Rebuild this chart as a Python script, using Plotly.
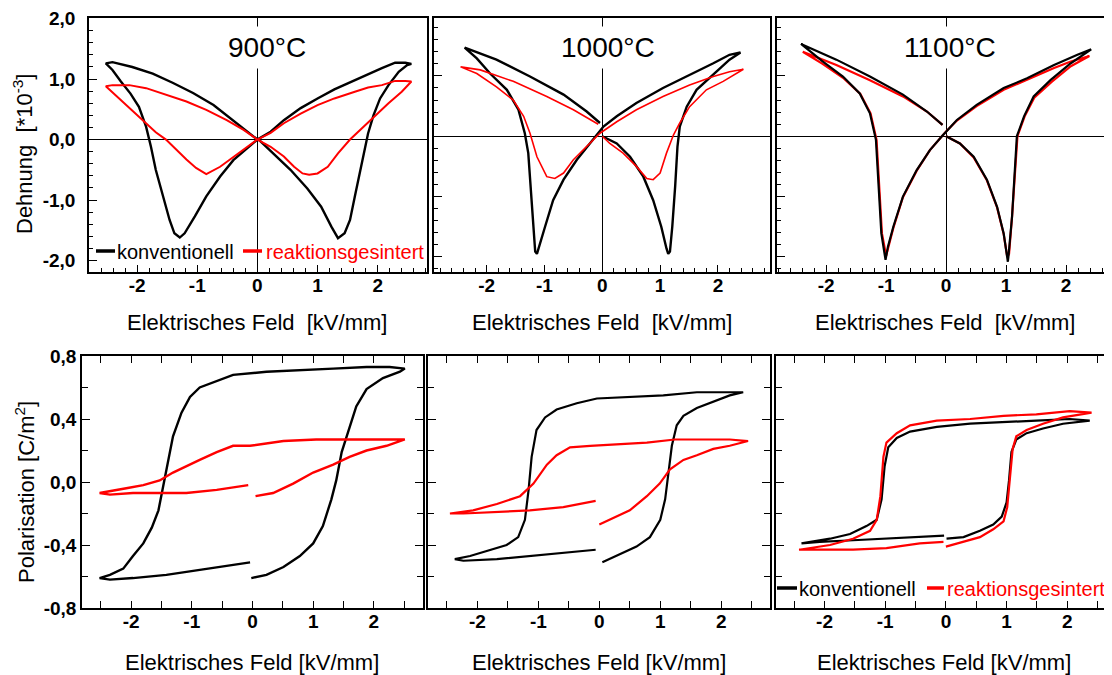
import plotly.graph_objects as go

# ---------------- data ----------------
# Dehnung (strain, *10^-3) vs. electric field (kV/mm)
E_S900_K = [0.0, 0.27, 0.55, 0.83, 1.06, 1.23, 1.34, 1.45, 1.54, 1.62, 1.70, 1.79, 1.84, 1.93, 2.04, 2.18, 2.35, 2.49, 2.56,
            2.46, 2.29, 2.07, 1.84, 1.56, 1.28, 1.00, 0.72, 0.44, 0.22, 0.0,
            -0.17, -0.40, -0.62, -0.85, -1.04, -1.21, -1.29, -1.38, -1.46, -1.57, -1.69, -1.77, -1.85, -1.97, -2.11, -2.27, -2.41, -2.52,
            -2.41, -2.08, -1.74, -1.41, -1.07, -0.73, -0.45, -0.20, 0.0]
S_S900_K = [0.02, -0.23, -0.50, -0.81, -1.11, -1.44, -1.63, -1.55, -1.33, -0.94, -0.56, -0.15, 0.10, 0.40, 0.68, 0.90, 1.12, 1.23, 1.25,
            1.27, 1.27, 1.18, 1.08, 0.96, 0.83, 0.68, 0.52, 0.32, 0.13, 0.0,
            -0.15, -0.34, -0.61, -0.94, -1.27, -1.55, -1.62, -1.55, -1.33, -0.94, -0.50, -0.12, 0.21, 0.54, 0.76, 0.96, 1.15, 1.26,
            1.28, 1.20, 1.09, 0.94, 0.77, 0.57, 0.35, 0.16, 0.0]

E_S900_R = [0.0, 0.22, 0.44, 0.61, 0.75, 0.86, 1.00, 1.17, 1.34, 1.54, 1.73, 1.96, 2.18, 2.40, 2.56,
            2.46, 2.29, 2.07, 1.84, 1.62, 1.28, 1.00, 0.72, 0.44, 0.22, 0.0,
            -0.17, -0.40, -0.62, -0.85, -1.02, -1.18, -1.35, -1.52, -1.69, -1.91, -2.13, -2.35, -2.52,
            -2.41, -2.13, -1.85, -1.52, -1.18, -0.85, -0.51, -0.23, 0.0]
S_S900_R = [0.0, -0.12, -0.28, -0.45, -0.56, -0.58, -0.56, -0.45, -0.23, 0.0, 0.18, 0.40, 0.60, 0.79, 0.96,
            0.97, 0.97, 0.90, 0.86, 0.79, 0.68, 0.57, 0.43, 0.27, 0.11, 0.0,
            -0.12, -0.28, -0.45, -0.57, -0.47, -0.33, -0.16, 0.0, 0.12, 0.32, 0.52, 0.72, 0.88,
            0.90, 0.90, 0.85, 0.74, 0.63, 0.49, 0.32, 0.16, 0.0]

E_S1000_K = [0.0, 0.25, 0.48, 0.71, 0.88, 1.02, 1.11, 1.14, 1.17, 1.21, 1.26, 1.30, 1.34, 1.46, 1.63, 1.92, 2.20, 2.39,
             2.20, 1.92, 1.51, 1.05, 0.59, 0.25, 0.02, -0.10,
             -0.21, -0.44, -0.67, -0.85, -0.99, -1.08, -1.13, -1.16, -1.19, -1.23, -1.28, -1.34, -1.45, -1.65, -1.94, -2.17, -2.38,
             -1.83, -1.25, -0.67, -0.27, -0.04]
S_S1000_K = [0.0, -0.12, -0.34, -0.67, -1.06, -1.50, -1.86, -1.95, -1.91, -1.50, -0.83, -0.17, 0.16, 0.49, 0.77, 1.02, 1.27, 1.39,
             1.35, 1.21, 1.02, 0.80, 0.55, 0.33, 0.16, 0.02,
             -0.12, -0.39, -0.72, -1.06, -1.50, -1.77, -1.95, -1.91, -1.50, -0.83, -0.28, 0.05, 0.44, 0.77, 1.04, 1.29, 1.47,
             1.27, 0.99, 0.69, 0.41, 0.22]

E_S1000_R = [0.0, 0.13, 0.36, 0.59, 0.77, 0.88, 1.00, 1.11, 1.23, 1.34, 1.51, 1.80, 2.09, 2.44,
             2.20, 1.92, 1.51, 1.05, 0.59, 0.25, -0.04,
             -0.27, -0.50, -0.67, -0.82, -0.96, -1.13, -1.25, -1.36, -1.54, -1.83, -2.17, -2.45,
             -2.11, -1.54, -0.96, -0.50, -0.07]
S_S1000_R = [0.0, -0.12, -0.28, -0.50, -0.70, -0.72, -0.61, -0.28, 0.02, 0.22, 0.49, 0.77, 0.91, 1.11,
             1.07, 0.99, 0.85, 0.66, 0.44, 0.24, 0.05,
             -0.17, -0.39, -0.61, -0.70, -0.67, -0.34, 0.05, 0.33, 0.60, 0.82, 1.04, 1.15,
             1.10, 0.91, 0.66, 0.44, 0.20]

E_S1100_K = [0.0, 0.23, 0.46, 0.68, 0.85, 0.96, 1.03, 1.04, 1.10, 1.16, 1.18, 1.30, 1.46, 1.74, 2.08, 2.42,
             2.19, 1.80, 1.35, 0.96, 0.51, 0.18, 0.0, -0.07,
             -0.27, -0.49, -0.72, -0.88, -0.97, -1.01, -1.08, -1.13, -1.17, -1.27, -1.44, -1.72, -2.06, -2.42,
             -1.83, -1.27, -0.72, -0.32, -0.06]
S_S1100_K = [0.0, -0.12, -0.34, -0.72, -1.17, -1.61, -2.08, -1.99, -1.33, -0.39, 0.0, 0.33, 0.66, 0.93, 1.21, 1.44,
             1.35, 1.18, 0.96, 0.80, 0.52, 0.27, 0.08, 0.0,
             -0.23, -0.56, -1.00, -1.50, -1.83, -2.05, -1.61, -0.78, -0.06, 0.38, 0.71, 0.99, 1.24, 1.53,
             1.27, 0.99, 0.69, 0.41, 0.19]

E_S1100_R = [0.0, 0.23, 0.46, 0.68, 0.85, 0.96, 1.02, 1.05, 1.10, 1.16, 1.19, 1.31, 1.47, 1.76, 2.08, 2.39,
             2.08, 1.80, 1.35, 0.96, 0.51, 0.18, 0.0, -0.07,
             -0.27, -0.49, -0.72, -0.88, -0.97, -1.00, -1.07, -1.12, -1.16, -1.26, -1.43, -1.72, -2.06, -2.39,
             -1.83, -1.27, -0.72, -0.32, -0.06]
S_S1100_R = [0.0, -0.12, -0.35, -0.73, -1.18, -1.62, -2.00, -1.95, -1.33, -0.39, 0.0, 0.33, 0.64, 0.90, 1.16, 1.33,
             1.24, 1.13, 0.93, 0.77, 0.50, 0.26, 0.08, 0.0,
             -0.23, -0.57, -1.01, -1.52, -1.85, -1.98, -1.61, -0.78, -0.06, 0.38, 0.70, 0.97, 1.20, 1.40,
             1.18, 0.93, 0.66, 0.41, 0.19]

# Polarisation (C/m^2) vs. electric field (kV/mm)
E_P900_K = [-0.02, 0.23, 0.51, 0.78, 1.00, 1.16, 1.30, 1.38, 1.47, 1.58, 1.71, 1.88, 2.15, 2.43, 2.51,
            2.26, 1.88, 1.33, 0.78, 0.23, -0.32, -0.59, -0.87, -1.03, -1.17, -1.31, -1.39, -1.47, -1.55, -1.66, -1.80, -1.97, -2.13, -2.35, -2.52,
            -2.35, -1.97, -1.42, -0.87, -0.32, -0.04]
P_P900_K = [-0.61, -0.59, -0.54, -0.47, -0.39, -0.28, -0.11, 0.01, 0.19, 0.33, 0.48, 0.59, 0.66, 0.70, 0.72,
            0.73, 0.73, 0.72, 0.71, 0.70, 0.68, 0.64, 0.60, 0.54, 0.44, 0.29, 0.14, -0.03, -0.18, -0.29, -0.39, -0.47, -0.55, -0.59, -0.61,
            -0.62, -0.61, -0.59, -0.56, -0.53, -0.51]

E_P900_R = [0.05, 0.34, 0.67, 1.00, 1.33, 1.60, 1.88, 2.21, 2.51,
            2.15, 1.60, 1.05, 0.51, -0.04, -0.32, -0.59, -0.87, -1.09, -1.31, -1.53, -1.80, -2.08, -2.35, -2.52,
            -2.35, -1.97, -1.53, -1.09, -0.59, -0.07]
P_P900_R = [-0.09, -0.07, -0.01, 0.06, 0.11, 0.16, 0.20, 0.23, 0.27,
            0.27, 0.27, 0.27, 0.26, 0.23, 0.23, 0.19, 0.14, 0.10, 0.06, 0.01, -0.02, -0.04, -0.06, -0.07,
            -0.08, -0.07, -0.07, -0.07, -0.05, -0.02]

E_P1000_K = [0.05, 0.28, 0.61, 0.83, 1.00, 1.08, 1.13, 1.19, 1.27, 1.38, 1.60, 1.87, 2.14, 2.36,
             2.14, 1.60, 1.05, 0.50, -0.04, -0.37, -0.70, -0.89, -1.03, -1.11, -1.16, -1.22, -1.33, -1.52, -1.85, -2.12, -2.37,
             -2.23, -1.68, -1.14, -0.59, -0.06]
P_P1000_K = [-0.51, -0.47, -0.41, -0.35, -0.24, -0.11, 0.06, 0.23, 0.36, 0.42, 0.47, 0.51, 0.55, 0.57,
             0.57, 0.57, 0.55, 0.54, 0.53, 0.50, 0.46, 0.41, 0.33, 0.16, -0.05, -0.24, -0.35, -0.40, -0.44, -0.47, -0.49,
             -0.50, -0.49, -0.47, -0.45, -0.43]

E_P1000_R = [0.0, 0.23, 0.50, 0.78, 0.99, 1.16, 1.38, 1.60, 1.87, 2.14, 2.44,
             2.14, 1.60, 1.24, 0.78, 0.23, -0.15, -0.48, -0.70, -0.86, -1.08, -1.30, -1.68, -2.07, -2.45,
             -2.23, -1.68, -1.14, -0.59, -0.06]
P_P1000_R = [-0.27, -0.23, -0.18, -0.09, -0.01, 0.08, 0.14, 0.17, 0.21, 0.23, 0.26,
             0.27, 0.27, 0.27, 0.25, 0.24, 0.23, 0.22, 0.17, 0.11, -0.01, -0.09, -0.14, -0.18, -0.20,
             -0.20, -0.19, -0.18, -0.16, -0.12]

E_P1100_K = [0.01, 0.29, 0.56, 0.78, 0.92, 1.00, 1.04, 1.08, 1.16, 1.33, 1.60, 1.93, 2.37,
             2.04, 1.49, 0.95, 0.40, -0.15, -0.59, -0.81, -0.95, -1.01, -1.06, -1.14, -1.31, -1.58, -1.91, -2.38,
             -2.08, -1.53, -0.98, -0.43, -0.03]
P_P1100_K = [-0.36, -0.35, -0.31, -0.27, -0.22, -0.13, 0.01, 0.19, 0.27, 0.31, 0.34, 0.37, 0.39,
             0.40, 0.39, 0.38, 0.37, 0.35, 0.32, 0.28, 0.22, 0.10, -0.11, -0.24, -0.28, -0.33, -0.36, -0.39,
             -0.38, -0.37, -0.36, -0.35, -0.34]

E_P1100_R = [0.0, 0.29, 0.56, 0.78, 0.95, 1.01, 1.05, 1.10, 1.16, 1.33, 1.60, 1.93, 2.40,
             2.04, 1.49, 0.95, 0.40, -0.15, -0.59, -0.81, -0.98, -1.03, -1.08, -1.14, -1.25, -1.53, -1.91, -2.42,
             -2.08, -1.53, -0.98, -0.43, -0.04]
P_P1100_R = [-0.41, -0.38, -0.35, -0.30, -0.25, -0.16, 0.01, 0.21, 0.29, 0.33, 0.37, 0.41, 0.44,
             0.45, 0.43, 0.42, 0.40, 0.39, 0.36, 0.31, 0.25, 0.16, -0.09, -0.24, -0.31, -0.36, -0.40, -0.43,
             -0.43, -0.43, -0.42, -0.39, -0.38]

TEMPS = ["900°C", "1000°C", "1100°C"]
X_TICKVALS = [-2, -1, 0, 1, 2]
X_TICKTEXT = ["-2", "-1", "0", "1", "2"]
S_TICKVALS = [-2, -1, 0, 1, 2]
S_TICKTEXT = ["-2,0", "-1,0", "0,0", "1,0", "2,0"]
P_TICKVALS = [-0.8, -0.4, 0.0, 0.4, 0.8]
P_TICKTEXT = ["-0,8", "-0,4", "0,0", "0,4", "0,8"]
SERIES = ["konventionell", "reaktionsgesintert"]

# ---------------- styling / layout ----------------
W, H = 1112, 675
OFF = 8  # the page body margin shifts the figure by 8 px; positions below are in window pixels
FONT = "Liberation Sans, Arial, sans-serif"
BLACK, RED = "#000000", "#ff0000"


def px2x(p):
    return (p - OFF) / W


def px2y(p):
    return 1 - (p - OFF) / H


def xd(a, b):
    return [px2x(a), px2x(b)]


def yd(top, bottom):
    return [px2y(bottom), px2y(top)]


panels = [
    # top row: strain
    dict(xdom=xd(89, 427), ydom=yd(18, 272), xr=[-2.80, 2.82], yr=[-2.19, 2.01], kind="S", ylab=True),
    dict(xdom=xd(434, 770), ydom=yd(18, 272), xr=[-2.91, 2.90], yr=[-2.25, 1.96], kind="S", ylab=False),
    dict(xdom=xd(777, 1114), ydom=yd(18, 272), xr=[-2.82, 2.80], yr=[-2.25, 1.96], kind="S", ylab=False),
    # bottom row: polarisation
    dict(xdom=xd(82, 423), ydom=yd(356, 608), xr=[-2.81, 2.81], yr=[-0.80, 0.80], kind="P", ylab=True),
    dict(xdom=xd(428, 770), ydom=yd(356, 608), xr=[-2.81, 2.80], yr=[-0.80, 0.80], kind="P", ylab=False),
    dict(xdom=xd(776, 1114), ydom=yd(356, 608), xr=[-2.80, 2.77], yr=[-0.80, 0.80], kind="P", ylab=False),
]

curves = [
    (1, E_S900_K, S_S900_K, BLACK, 2.4), (1, E_S900_R, S_S900_R, RED, 2.0),
    (2, E_S1000_K, S_S1000_K, BLACK, 2.4), (2, E_S1000_R, S_S1000_R, RED, 1.6),
    (3, E_S1100_R, S_S1100_R, RED, 2.2), (3, E_S1100_K, S_S1100_K, BLACK, 2.2),
    (4, E_P900_K, P_P900_K, BLACK, 2.4), (4, E_P900_R, P_P900_R, RED, 2.4),
    (5, E_P1000_K, P_P1000_K, BLACK, 2.2), (5, E_P1000_R, P_P1000_R, RED, 2.2),
    (6, E_P1100_K, P_P1100_K, BLACK, 2.2), (6, E_P1100_R, P_P1100_R, RED, 2.2),
]

fig = go.Figure()
for ax, xs, ys, col, w in curves:
    suf = "" if ax == 1 else str(ax)
    fig.add_trace(go.Scatter(x=xs, y=ys, mode="lines", line=dict(color=col, width=w),
                             xaxis="x" + suf, yaxis="y" + suf, showlegend=False, hoverinfo="skip"))

tickfont = dict(family=FONT, size=19, color="black", weight="bold")
layout = dict(width=W, height=H, autosize=False,
              margin=dict(l=0, r=0, t=0, b=0, pad=0, autoexpand=False),
              paper_bgcolor="white", plot_bgcolor="white", showlegend=False)

for i, p in enumerate(panels, start=1):
    suf = "" if i == 1 else str(i)
    top = p["kind"] == "S"
    xa = dict(domain=p["xdom"], range=p["xr"], anchor="y" + suf, showline=True, linecolor="black",
              linewidth=1.5, showgrid=False, ticks="inside", ticklen=7, tickwidth=1.2, tickcolor="black",
              tickmode="array", tickvals=X_TICKVALS, ticktext=X_TICKTEXT, tickfont=tickfont,
              ticklabelstandoff=-5, fixedrange=True, automargin=False)
    ya = dict(domain=p["ydom"], range=p["yr"], anchor="x" + suf, showline=True, linecolor="black",
              linewidth=1.5, showgrid=False, ticks="inside", tickwidth=1.2, tickcolor="black",
              tickmode="array", tickfont=tickfont, showticklabels=p["ylab"], fixedrange=True,
              automargin=False)
    if top:
        xa.update(mirror=True, zeroline=True, zerolinecolor="black", zerolinewidth=1,
                  minor=dict(ticks="inside", ticklen=4, tickcolor="black", tickwidth=1,
                             tickmode="linear", tick0=0, dtick=0.2))
        ya.update(mirror=True, zeroline=True, zerolinecolor="black", zerolinewidth=1,
                  tickvals=S_TICKVALS, ticktext=S_TICKTEXT, ticklen=8, ticklabelstandoff=8,
                  minor=dict(ticks="inside", ticklen=4, tickcolor="black", tickwidth=1,
                             tickmode="linear", tick0=0, dtick=0.2))
    else:
        xa.update(mirror="ticks", zeroline=False,
                  minor=dict(ticks="inside", ticklen=7, tickcolor="black", tickwidth=1.2,
                             tickmode="linear", tick0=0, dtick=0.5))
        ya.update(mirror="ticks", zeroline=False, tickvals=P_TICKVALS, ticktext=P_TICKTEXT,
                  ticklen=8, ticklabelstandoff=0,
                  minor=dict(ticks="inside", ticklen=6, tickcolor="black", tickwidth=1.2,
                             tickmode="linear", tick0=0, dtick=0.2))
    layout["xaxis" + suf] = xa
    layout["yaxis" + suf] = ya

fig.update_layout(**layout)


def px_ann(text, x, y, size, color="black", xanchor="center", **kw):
    fig.add_annotation(text=text, x=px2x(x), y=px2y(y), xref="paper", yref="paper",
                       xanchor=xanchor, yanchor="middle", showarrow=False,
                       font=dict(family=FONT, size=size, color=color), **kw)


# temperature titles (white box hides the zero line behind)
for t, cx in zip(TEMPS, [267, 608, 950]):
    px_ann(t, cx, 48, 28, bgcolor="white", borderpad=5)

# axis titles
for cx in [257, 602, 945]:
    px_ann("Elektrisches Feld\u00a0 [kV/mm]", cx, 322, 22)
for cx in [252, 599, 944]:
    px_ann("Elektrisches Feld [kV/mm]", cx, 662, 22)
px_ann("Dehnung\u00a0 [*10<sup>-3</sup>]", 23, 154, 22, textangle=-90)
px_ann("Polarisation [C/m<sup>2</sup>]", 25, 492, 22, textangle=-90)


# hand-made legends (two places)
def legend(y, segs, texts):
    for (a, b), col in zip(segs, [BLACK, RED]):
        fig.add_shape(type="line", xref="paper", yref="paper", x0=px2x(a), x1=px2x(b),
                      y0=px2y(y), y1=px2y(y), line=dict(color=col, width=3.5))
    for (tx, label), col in zip(texts, [BLACK, RED]):
        px_ann(label, tx, y + 1, 20, color=col, xanchor="left")


legend(251, [(96, 115), (243, 262)], [(115, SERIES[0]), (264, SERIES[1])])
legend(588, [(777, 797), (927, 944)], [(797, SERIES[0]), (945, SERIES[1])])

fig.write_html("out.html")
